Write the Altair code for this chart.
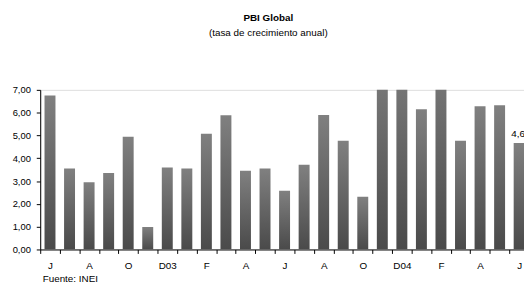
import altair as alt
import pandas as pd

meses = ["Jun03", "Jul03", "Ago03", "Sep03", "Oct03", "Nov03", "Dic03",
         "Ene04", "Feb04", "Mar04", "Abr04", "May04", "Jun04", "Jul04",
         "Ago04", "Sep04", "Oct04", "Nov04", "Dic04", "Ene05", "Feb05",
         "Mar05", "Abr05", "May05", "Jun05"]
etiquetas = ["J", "", "A", "", "O", "", "D03", "", "F", "", "A", "", "J", "",
             "A", "", "O", "", "D04", "", "F", "", "A", "", "J"]
valores = [6.75, 3.55, 2.95, 3.35, 4.94, 0.98, 3.59, 3.55, 5.07, 5.89, 3.45,
           3.55, 2.57, 3.71, 5.90, 4.77, 2.31, 8.6, 8.9, 6.15, 9.2, 4.77,
           6.28, 6.32, 4.67]
anotacion = ["", "", "", "", "", "", "", "", "", "", "", "", "", "", "", "",
             "", "", "", "", "", "", "", "", "4,6"]
ticks_y = [0, 1, 2, 3, 4, 5, 6, 7]

df = pd.DataFrame({"mes": meses, "etiqueta": etiquetas, "valor": valores,
                   "nota": anotacion})

label_map = "{" + ",".join(f"'{m}':'{e}'" for m, e in zip(meses, etiquetas)) + "}"

FONT = "Liberation Sans, Arial, sans-serif"

x = alt.X("mes:N", sort=meses,
          scale=alt.Scale(range=[0, 496], paddingInner=0, paddingOuter=0),
          axis=alt.Axis(title="Fuente: INEI", titleAnchor="start", titleAlign="left",
                        titleX=2, titleY=25, titleBaseline="top",
                        titleFontWeight="normal", titleFontSize=10, titleFont=FONT,
                        titleColor="black",
                        labelExpr=f"{label_map}[datum.value]", labelAngle=0,
                        labelFont=FONT, labelFontSize=10, labelColor="black",
                        labelPadding=7, tickBand="extent", tickSize=4,
                        labelOverlap=False,
                        tickColor="black", domainColor="black", grid=False))
y = alt.Y("valor:Q", scale=alt.Scale(domain=[0, 7], nice=False),
          axis=alt.Axis(title=None, values=ticks_y, labelOverlap=False,
                        tickCount=8,
                        labelExpr="replace(format(datum.value, '.2f'), '.', ',')",
                        labelFont=FONT, labelFontSize=9.5, labelColor="black",
                        labelPadding=6, tickSize=4, tickColor="black",
                        domainColor="black", grid=False))

grad = alt.LinearGradient(gradient="linear", x1=0, y1=0, x2=0, y2=1,
                          stops=[alt.GradientStop(color="#808080", offset=0),
                                 alt.GradientStop(color="#4a4a4a", offset=1)])

bars = alt.Chart(df).mark_bar(clip=True, color=grad,
                              width=alt.RelativeBandSize(0.56)).encode(x=x, y=y)

text = alt.Chart(df).transform_filter("datum.nota != ''").mark_text(
    font=FONT, fontSize=10, baseline="bottom", dy=-4, dx=-1, color="black"
).encode(x=x, y=y, text="nota:N")

chart = alt.layer(bars, text).properties(
    width=491, height=162,
    autosize=alt.AutoSizeParams(type="none"),
    padding={"left": 32.7, "top": 81, "right": 0, "bottom": 35},
    title=alt.Title("PBI Global", subtitle="(tasa de crecimiento anual)",
                    anchor="middle", dx=-14, offset=48, font=FONT, fontSize=10,
                    fontWeight="bold", color="black", subtitleFont=FONT,
                    subtitleFontSize=10, subtitleColor="black", subtitlePadding=5),
).configure_view(stroke=None).configure(background="white")

chart.save("out.html", embed_options={"renderer": "svg", "actions": False})
